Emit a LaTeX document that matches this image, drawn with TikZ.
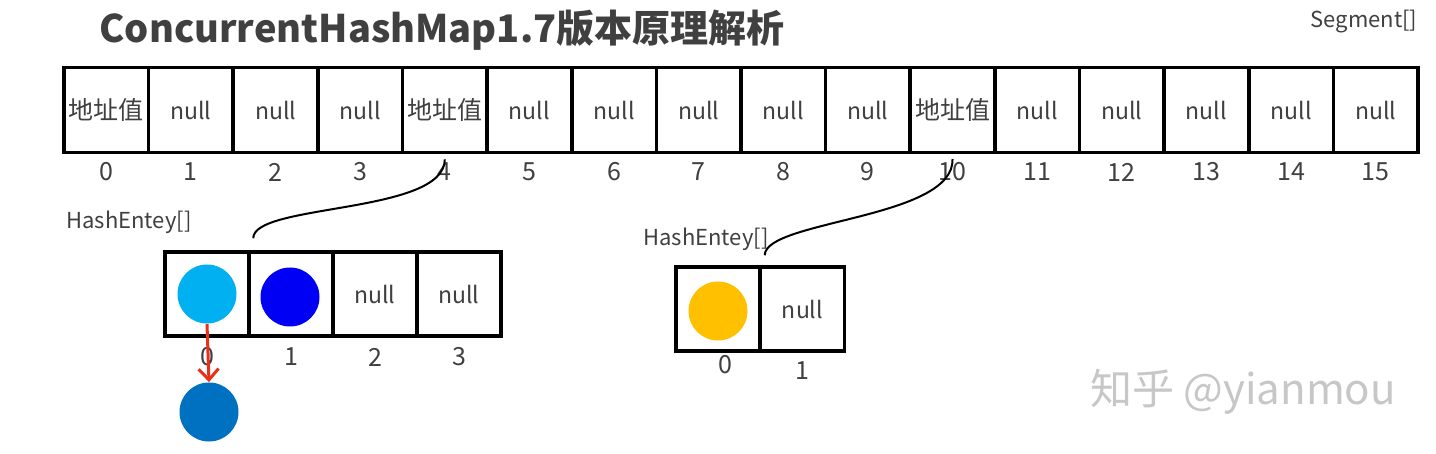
\documentclass[tikz,border=0pt]{standalone}
\usepackage{fontspec}
\setmainfont{Noto Sans CJK SC}
\usepackage{tikz}
\usetikzlibrary{arrows.meta}
\usetikzlibrary{positioning}
\definecolor{txtgray}{HTML}{404040}
\definecolor{lblue}{HTML}{00B0F0}
\definecolor{mblue}{HTML}{0000F5}
\definecolor{dblue}{HTML}{0070C0}
\definecolor{yel}{HTML}{FFC000}
\definecolor{arrred}{HTML}{E8301C}
\tikzstyle{seg}=[draw,line width=3.5pt,minimum width=84.6pt,minimum height=85pt,inner sep=0pt,text=txtgray,font=\fontsize{23}{26}\selectfont]
\tikzstyle{hcell}=[seg,minimum width=84pt,minimum height=84pt]
\tikzstyle{idx}=[text=txtgray,font=\fontsize{25}{28}\selectfont]
\tikzstyle{lbl}=[text=txtgray,font=\fontsize{22}{24}\selectfont]
\tikzstyle{ball}=[circle,minimum size=59pt,inner sep=0pt]
\newcommand{\addrval}{\fontsize{25}{28}\selectfont 地址值}

\begin{document}
\begin{tikzpicture}[x=1pt,y=-1pt,thick]
\useasboundingbox[fill=white] (0,0) rectangle (1436,454);
\node [text=txtgray,font=\fontsize{38}{42}\selectfont\bfseries] (t) at (442,30) {ConcurrentHashMap1.7版本原理解析};
\node [lbl] (sg) at (1364,22) {Segment[]};
% segment array
\foreach \i/\t in {0/\addrval,1/null,2/null,3/null,4/\addrval,5/null,6/null,7/null,
  8/null,9/null,10/\addrval,11/null,12/null,13/null,14/null,15/null}
  \node [seg] (s\i) at ({106.3+84.625*\i},110) {\t};
\foreach \i in {0,...,15}
  \node [idx] (n\i) at (s\i) [yshift=-62pt] {\i};
% HashEntey left
\node [lbl] (la) at (129,222) {HashEntey[]};
\foreach \i/\t in {0/,1/,2/null,3/null}
  \node [hcell] (h\i) at ({207+84*\i},294) {\t};
\foreach \i in {0,...,3}
  \node [idx] (m\i) at (h\i) [yshift=-63pt] {\i};
\node [ball,fill=lblue] (c0) at (h0) {};
\node [ball,fill=mblue] (c1) at ([xshift=-1pt,yshift=-3pt]h1) {};
\node [ball,fill=dblue] (c2) at (209,412) {};
\draw [arrred,line width=3pt,-{Straight Barb[length=11pt,width=20pt]}] (c0.south) -- (c2.north);
% HashEntey right
\node [lbl] (lb) at (706,239) {HashEntey[]};
\node [hcell] (r0) at (718,309) {};
\node [hcell] (r1) at (802.5,309) {null};
\node [ball,fill=yel] (c3) at ([yshift=-2pt]r0) {};
\node [idx] (q0) at (r0) [xshift=7pt,yshift=-56pt] {0};
\node [idx] (q1) at (r1) [yshift=-62pt] {1};
% links
\draw [line width=2pt] (n4.north) .. controls +(0,55) and +(0,-35) .. ([xshift=6pt,yshift=12pt]h1.north west);
\draw [line width=2pt] (n10.north) .. controls +(2,60) and +(0,-35) .. ([xshift=6pt,yshift=10pt]r1.north west);
\node [text=black!22,font=\fontsize{42}{46}\selectfont] (wm) at (1243,392) {知乎 @yianmou};
\end{tikzpicture}
\end{document}
